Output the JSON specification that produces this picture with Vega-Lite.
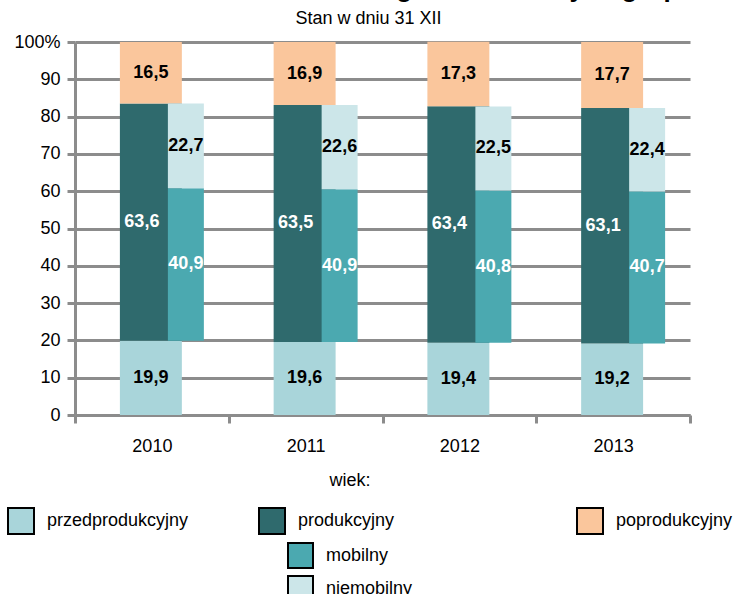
{
  "$schema": "https://vega.github.io/schema/vega-lite/v6.json",
  "width": 615,
  "height": 373,
  "autosize": {"type": "none"},
  "padding": {"left": 75, "top": 42, "right": 47, "bottom": 179},
  "config": {
    "font": "Liberation Sans",
    "locale": {"number": {"decimal": ",", "thousands": " ", "grouping": [3], "currency": ["", " zł"]}},
    "view": {"stroke": null},
    "axis": {
      "labelFontSize": 18,
      "labelColor": "#000",
      "domainColor": "#8c8c8c",
      "domainWidth": 3,
      "tickColor": "#8c8c8c",
      "tickWidth": 3,
      "tickSize": 8,
      "gridColor": "#8c8c8c",
      "gridWidth": 3
    },
    "axisY": {
      "values": [0, 10, 20, 30, 40, 50, 60, 70, 80, 90, 100],
      "labelExpr": "datum.value === 100 ? '100%' : datum.label",
      "labelPadding": 7,
      "grid": true,
      "titleAngle": 0,
      "titleX": 293,
      "titleY": -19,
      "titleAlign": "center",
      "titleBaseline": "alphabetic",
      "titleFontSize": 18,
      "titleFontWeight": "normal",
      "titleColor": "#000"
    },
    "legend": {
      "padding": 0,
      "labelFontSize": 18,
      "labelColor": "#000",
      "symbolType": "square",
      "symbolSize": 676,
      "symbolStrokeColor": "#000",
      "symbolStrokeWidth": 2,
      "labelOffset": 12,
      "labelLimit": 400
    }
  },
  "title": {
    "text": "Ludność według ekonomicznych grup wieku",
    "anchor": "start",
    "frame": "group",
    "dx": 132,
    "dy": 14,
    "offset": 0,
    "fontSize": 26,
    "fontWeight": "bold",
    "color": "#000",
    "baseline": "alphabetic"
  },
  "data": {
    "values": [
      {"rok": "2010", "grupa": "przedprodukcyjny", "wartosc": 19.9, "kolejnosc": 1},
      {"rok": "2010", "grupa": "produkcyjny", "wartosc": 63.6, "kolejnosc": 2},
      {"rok": "2010", "grupa": "poprodukcyjny", "wartosc": 16.5, "kolejnosc": 3},
      {"rok": "2010", "grupa": "mobilny", "wartosc": 40.9, "kolejnosc": 2},
      {"rok": "2010", "grupa": "niemobilny", "wartosc": 22.7, "kolejnosc": 3},
      {"rok": "2011", "grupa": "przedprodukcyjny", "wartosc": 19.6, "kolejnosc": 1},
      {"rok": "2011", "grupa": "produkcyjny", "wartosc": 63.5, "kolejnosc": 2},
      {"rok": "2011", "grupa": "poprodukcyjny", "wartosc": 16.9, "kolejnosc": 3},
      {"rok": "2011", "grupa": "mobilny", "wartosc": 40.9, "kolejnosc": 2},
      {"rok": "2011", "grupa": "niemobilny", "wartosc": 22.6, "kolejnosc": 3},
      {"rok": "2012", "grupa": "przedprodukcyjny", "wartosc": 19.4, "kolejnosc": 1},
      {"rok": "2012", "grupa": "produkcyjny", "wartosc": 63.4, "kolejnosc": 2},
      {"rok": "2012", "grupa": "poprodukcyjny", "wartosc": 17.3, "kolejnosc": 3},
      {"rok": "2012", "grupa": "mobilny", "wartosc": 40.8, "kolejnosc": 2},
      {"rok": "2012", "grupa": "niemobilny", "wartosc": 22.5, "kolejnosc": 3},
      {"rok": "2013", "grupa": "przedprodukcyjny", "wartosc": 19.2, "kolejnosc": 1},
      {"rok": "2013", "grupa": "produkcyjny", "wartosc": 63.1, "kolejnosc": 2},
      {"rok": "2013", "grupa": "poprodukcyjny", "wartosc": 17.7, "kolejnosc": 3},
      {"rok": "2013", "grupa": "mobilny", "wartosc": 40.7, "kolejnosc": 2},
      {"rok": "2013", "grupa": "niemobilny", "wartosc": 22.4, "kolejnosc": 3}
    ]
  },
  "encoding": {
    "x": {
      "field": "rok",
      "type": "ordinal",
      "scale": {"paddingInner": 0, "paddingOuter": 0},
      "axis": {"title": null, "labelAngle": 0, "tickBand": "extent", "labelPadding": 14, "grid": false}
    },
    "y": {
      "field": "wartosc",
      "type": "quantitative",
      "stack": "zero",
      "scale": {"domain": [0, 100], "nice": false},
      "axis": {"title": "Stan w dniu 31 XII"}
    },
    "order": {"field": "kolejnosc", "type": "quantitative"}
  },
  "layer": [
    {
      "transform": [{"filter": {"field": "grupa", "oneOf": ["przedprodukcyjny", "produkcyjny"]}}],
      "mark": {"type": "bar", "width": {"band": 0.403}, "xOffset": -1},
      "encoding": {
        "color": {
          "field": "grupa",
          "type": "nominal",
          "scale": {"domain": ["przedprodukcyjny", "produkcyjny"], "range": ["#A9D5DA", "#2F6A6D"]},
          "legend": {
            "orient": "none",
            "legendX": -68,
            "legendY": 465,
            "direction": "horizontal",
            "columns": 2,
            "title": null,
            "columnPadding": 66,
            "gridAlign": "each"
          }
        }
      }
    },
    {
      "transform": [{"filter": {"field": "grupa", "oneOf": ["przedprodukcyjny", "produkcyjny", "poprodukcyjny"]}}],
      "mark": {"type": "bar", "width": {"band": 0.403}, "xOffset": -1},
      "encoding": {
        "color": {
          "condition": {"test": "datum.grupa !== 'poprodukcyjny'", "value": "transparent"},
          "field": "grupa",
          "type": "nominal",
          "scale": {"domain": ["poprodukcyjny"], "range": ["#FAC69C"]},
          "legend": {
            "orient": "none",
            "legendX": 501,
            "legendY": 465,
            "direction": "horizontal",
            "title": null
          }
        }
      }
    },
    {
      "transform": [{"filter": {"field": "grupa", "oneOf": ["przedprodukcyjny", "mobilny", "niemobilny"]}}],
      "mark": {"type": "bar", "width": {"band": 0.234}, "xOffset": 34},
      "encoding": {
        "color": {
          "condition": {"test": "datum.grupa === 'przedprodukcyjny'", "value": "transparent"},
          "field": "grupa",
          "type": "nominal",
          "scale": {"domain": ["mobilny", "niemobilny"], "range": ["#4BA9B0", "#CCE6E9"]},
          "legend": {
            "orient": "none",
            "legendX": 212,
            "legendY": 430,
            "direction": "vertical",
            "title": "wiek:",
            "titleAnchor": "middle",
            "titleFontSize": 18,
            "titleFontWeight": "normal",
            "titleColor": "#000",
            "titlePadding": 52,
            "rowPadding": 0,
            "symbolSize": 625
          }
        }
      }
    },
    {
      "transform": [{"filter": {"field": "grupa", "oneOf": ["przedprodukcyjny", "produkcyjny", "poprodukcyjny"]}}],
      "mark": {"type": "text", "fontSize": 18, "fontWeight": "bold", "xOffset": -1, "baseline": "middle", "align": "center", "color": "#000"},
      "encoding": {
        "y": {"field": "wartosc", "type": "quantitative", "stack": "zero", "bandPosition": 0.5, "axis": {"title": "Stan w dniu 31 XII"}},
        "detail": {"field": "grupa"},
        "text": {"field": "wartosc", "type": "quantitative", "format": ".1f"},
        "opacity": {"condition": {"test": "datum.grupa === 'produkcyjny'", "value": 0}, "value": 1}
      }
    },
    {
      "transform": [{"filter": {"field": "grupa", "oneOf": ["przedprodukcyjny", "produkcyjny", "poprodukcyjny"]}}],
      "mark": {"type": "text", "fontSize": 18, "fontWeight": "bold", "xOffset": -10, "baseline": "middle", "align": "center", "color": "#ffffff"},
      "encoding": {
        "y": {"field": "wartosc", "type": "quantitative", "stack": "zero", "bandPosition": 0.5, "axis": {"title": "Stan w dniu 31 XII"}},
        "detail": {"field": "grupa"},
        "text": {"field": "wartosc", "type": "quantitative", "format": ".1f"},
        "opacity": {"condition": {"test": "datum.grupa === 'produkcyjny'", "value": 1}, "value": 0}
      }
    },
    {
      "transform": [{"filter": {"field": "grupa", "oneOf": ["przedprodukcyjny", "mobilny", "niemobilny"]}}],
      "mark": {"type": "text", "fontSize": 18, "fontWeight": "bold", "xOffset": 34, "baseline": "middle", "align": "center"},
      "encoding": {
        "y": {"field": "wartosc", "type": "quantitative", "stack": "zero", "bandPosition": 0.5, "axis": {"title": "Stan w dniu 31 XII"}},
        "detail": {"field": "grupa"},
        "text": {"field": "wartosc", "type": "quantitative", "format": ".1f"},
        "color": {"condition": {"test": "datum.grupa === 'mobilny'", "value": "#ffffff"}, "value": "#000000"},
        "opacity": {"condition": {"test": "datum.grupa === 'przedprodukcyjny'", "value": 0}, "value": 1}
      }
    }
  ],
  "resolve": {"scale": {"color": "independent"}}
}
